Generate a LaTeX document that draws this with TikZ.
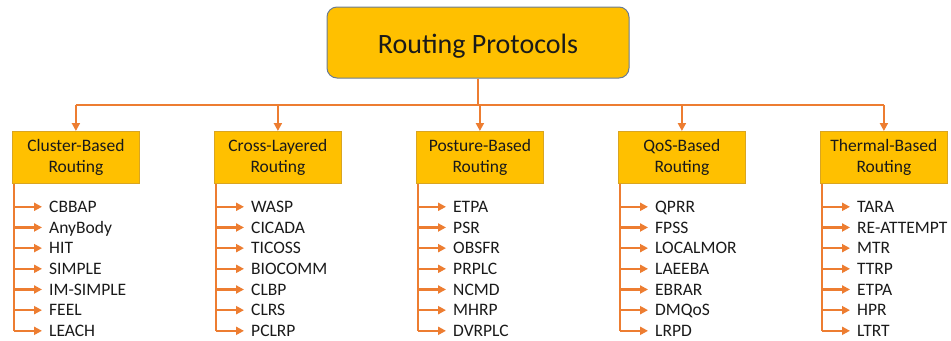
\documentclass[tikz,border=0pt]{standalone}
\usepackage{fontspec}
\setmainfont{Carlito}
\usetikzlibrary{arrows.meta,calc}
\definecolor{gold}{HTML}{FFC000}
\definecolor{goldedge}{HTML}{D9A521}
\definecolor{topedge}{HTML}{6A7C94}
\definecolor{wire}{HTML}{ED7D31}
\definecolor{ink}{HTML}{1A1A1A}
\tikzset{
  rootbox/.style={draw=topedge, line width=1bp, fill=gold, rounded corners=10bp,
    minimum width=302bp, minimum height=71bp, inner sep=0pt, text=ink,
    text height=22.5bp, text depth=0pt,
    font=\fontsize{28bp}{33bp}\selectfont},
  catbox/.style={draw=goldedge, line width=0.8bp, fill=gold, minimum width=127bp,
    minimum height=52bp, inner sep=0pt, align=center, text=ink,
    font=\fontsize{17.5bp}{21bp}\selectfont},
  leaf/.style={anchor=west, inner sep=0pt, text height=11.3bp, text depth=0pt,
    text=ink, font=\fontsize{17.5bp}{21bp}\selectfont},
  wireline/.style={draw=wire, line width=2.2bp, line join=round},
  wirearrow/.style={wireline, -{Triangle[length=8bp,width=8bp]}},
}
\begin{document}
\begin{tikzpicture}[x=1bp, y=-1bp]
  \useasboundingbox (0,0) rectangle (951,340);
  % root of the tree
  \node[rootbox] (root) at (478,42.5) {Routing Protocols};
  \coordinate (bus) at (478,105);
  % the five protocol families
  \foreach \i/\lx/\name in {1/12/{Cluster-Based\\Routing},2/214/{Cross-Layered\\Routing},
      3/416/{Posture-Based\\Routing},4/618/{QoS-Based\\Routing},5/820/{Thermal-Based\\Routing}}{
    \node[catbox, anchor=north west] (c\i) at (\lx,131) {\name};
  }
  % bus from the root to every family
  \draw[wireline] (root.south) -- (bus);
  \draw[wireline] (bus -| c1.north) -- (bus -| c5.north);
  \foreach \i in {1,...,5}{
    \draw[wirearrow] (bus -| c\i.north) -- (c\i.north);
  }
  % protocols listed under each family
  \foreach \i/\items in {
      1/{CBBAP,AnyBody,HIT,SIMPLE,IM-SIMPLE,FEEL,LEACH},
      2/{WASP,CICADA,TICOSS,BIOCOMM,CLBP,CLRS,PCLRP},
      3/{ETPA,PSR,OBSFR,PRPLC,NCMD,MHRP,DVRPLC},
      4/{QPRR,FPSS,LOCALMOR,LAEEBA,EBRAR,DMQoS,LRPD},
      5/{TARA,RE-ATTEMPT,MTR,TTRP,ETPA,HPR,LTRT}}{
    \coordinate (s\i) at ($(c\i.south west)+(2,0)$);
    \foreach \p [count=\k] in \items {
      \node[leaf] (c\i i\k) at ($(c\i.south west)+(37,23+20.67*\k-20.67)$) {\p};
      \draw[wirearrow, shorten >=7bp] (c\i i\k.west -| s\i) -- (c\i i\k.west);
    }
    \draw[wireline] (s\i) -- (c\i i7.west -| s\i);
  }
\end{tikzpicture}
\end{document}
